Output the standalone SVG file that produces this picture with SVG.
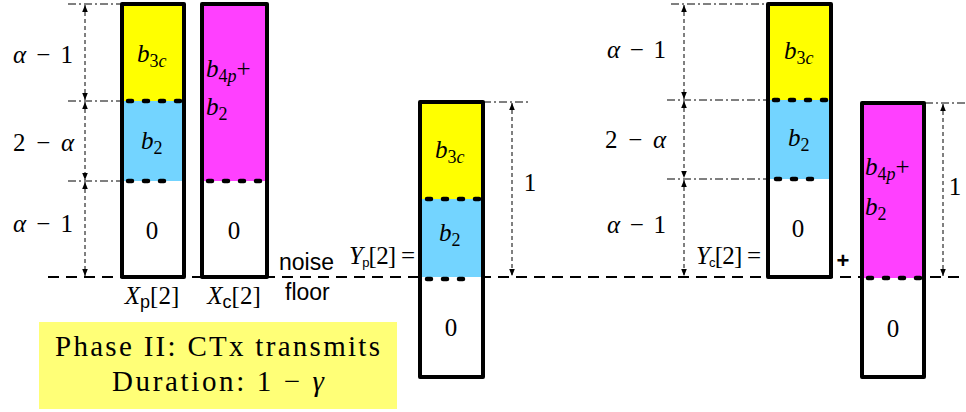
<svg xmlns="http://www.w3.org/2000/svg" width="966" height="412" viewBox="0 0 966 412">
<defs>
<marker id="ah" viewBox="0 0 10 10" refX="10" refY="5" markerWidth="7" markerHeight="7" orient="auto-start-reverse" markerUnits="userSpaceOnUse"><path d="M0,1 L10,5 L0,9 z" fill="#000"/></marker>
<style>
.bar{fill:none;stroke:#000;stroke-width:4;stroke-linejoin:round}
.dot{stroke:#000;stroke-width:4.5;stroke-dasharray:4 12;stroke-linecap:round;fill:none}
.dim{stroke:#000;stroke-width:1;stroke-dasharray:4 3;fill:none;marker-start:url(#ah);marker-end:url(#ah)}
.dd{stroke:#000;stroke-width:1;stroke-dasharray:8 3 2 3;fill:none}
.floor{stroke:#000;stroke-width:2;stroke-dasharray:11 7;fill:none}
.m{font-family:"Liberation Serif","Times New Roman",serif;font-size:25px;fill:#000}
.ms{font-size:18px}
.i{font-style:italic}
.sf{font-family:"Liberation Sans",Arial,sans-serif}
.sans{font-family:"Liberation Sans",Arial,sans-serif;font-size:23px;fill:#000}
.cap{font-family:"Liberation Serif","Times New Roman",serif;font-size:29px;fill:#000}
</style>
</defs>

<g id="connectors">
<line class="floor" x1="48" y1="277" x2="966" y2="277"/>
<line class="dd" x1="68" y1="4" x2="122" y2="4"/>
<line class="dd" x1="68" y1="101" x2="122" y2="101"/>
<line class="dd" x1="68" y1="181" x2="122" y2="181"/>
<line class="dim" x1="85" y1="5" x2="85" y2="100"/>
<line class="dim" x1="85" y1="102" x2="85" y2="180"/>
<line class="dim" x1="85" y1="182" x2="85" y2="276"/>
<line class="dd" x1="483" y1="102" x2="530" y2="102"/>
<line class="dim" x1="512" y1="103" x2="512" y2="276"/>
<line class="dd" x1="671" y1="4" x2="768" y2="4"/>
<line class="dd" x1="667" y1="100" x2="768" y2="100"/>
<line class="dd" x1="667" y1="179" x2="768" y2="179"/>
<line class="dim" x1="684" y1="5" x2="684" y2="99"/>
<line class="dim" x1="684" y1="101" x2="684" y2="178"/>
<line class="dim" x1="684" y1="180" x2="684" y2="276"/>
<line class="dd" x1="925" y1="103" x2="966" y2="103"/>
<line class="dim" x1="943" y1="104" x2="943" y2="276"/>
</g>

<g id="xp">
<rect x="122" y="4" width="62" height="97" fill="#ffff00"/>
<rect x="122" y="101" width="62" height="80" fill="#73d4ff"/>
<rect x="122" y="181" width="62" height="96" fill="#fff"/>
<line class="dot" x1="128" y1="101" x2="182" y2="101"/>
<line class="dot" x1="128" y1="181" x2="172" y2="181"/>
<rect class="bar" x="122" y="4" width="62" height="273"/>
<text class="m" x="137" y="62"><tspan class="i">b</tspan><tspan class="ms" dy="5">3<tspan class="i">c</tspan></tspan></text>
<text class="m" x="141" y="149"><tspan class="i">b</tspan><tspan class="ms" dy="5">2</tspan></text>
<text class="m" x="152" y="239" text-anchor="middle">0</text>
<text class="m" x="152" y="304" text-anchor="middle"><tspan class="i">X</tspan><tspan class="ms sf" dy="4">p</tspan><tspan dy="-4">[2]</tspan></text>
</g>

<g id="xc">
<rect x="202" y="4" width="65" height="177" fill="#ff40ff"/>
<rect x="202" y="181" width="65" height="96" fill="#fff"/>
<line class="dot" x1="208" y1="181" x2="264" y2="181"/>
<rect class="bar" x="202" y="4" width="65" height="273"/>
<text class="m" x="206" y="77"><tspan class="i">b</tspan><tspan class="ms" dy="5">4<tspan class="i">p</tspan></tspan><tspan dy="-5">+</tspan></text>
<text class="m" x="206" y="115"><tspan class="i">b</tspan><tspan class="ms" dy="5">2</tspan></text>
<text class="m" x="234" y="239" text-anchor="middle">0</text>
<text class="m" x="234" y="304" text-anchor="middle"><tspan class="i">X</tspan><tspan class="ms sf" dy="4">c</tspan><tspan dy="-4">[2]</tspan></text>
</g>

<g id="left-labels">
<text class="m" x="13" y="63" textLength="60"><tspan class="i">α</tspan> − 1</text>
<text class="m" x="13" y="151" textLength="61">2 − <tspan class="i">α</tspan></text>
<text class="m" x="13" y="232" textLength="60"><tspan class="i">α</tspan> − 1</text>
</g>

<g id="noise-floor">
<text class="sans" x="279" y="270">noise</text>
<text class="sans" x="285" y="300">floor</text>
</g>

<g id="yp">
<rect x="420" y="102" width="63" height="97" fill="#ffff00"/>
<rect x="420" y="199" width="63" height="78" fill="#73d4ff"/>
<rect x="420" y="277" width="63" height="100" fill="#fff"/>
<line class="dot" x1="427" y1="199" x2="479" y2="199"/>
<line class="dot" x1="427" y1="279" x2="470" y2="279"/>
<rect class="bar" x="420" y="102" width="63" height="275"/>
<text class="m" x="435" y="158"><tspan class="i">b</tspan><tspan class="ms" dy="5">3<tspan class="i">c</tspan></tspan></text>
<text class="m" x="439" y="241"><tspan class="i">b</tspan><tspan class="ms" dy="5">2</tspan></text>
<text class="m" x="451" y="336" text-anchor="middle">0</text>
<text class="m" x="349" y="264" font-size="19" textLength="66"><tspan class="i">Y</tspan><tspan class="sf" font-size="13" dy="3">p</tspan><tspan dy="-3">[2] =</tspan></text>
<text class="m" x="530" y="191" text-anchor="middle">1</text>
</g>

<g id="yc">
<rect x="768" y="4" width="63" height="96" fill="#ffff00"/>
<rect x="768" y="100" width="63" height="79" fill="#73d4ff"/>
<rect x="768" y="179" width="63" height="98" fill="#fff"/>
<line class="dot" x1="774" y1="100" x2="828" y2="100"/>
<line class="dot" x1="776" y1="179" x2="820" y2="179"/>
<rect class="bar" x="768" y="4" width="63" height="273"/>
<text class="m" x="784" y="59"><tspan class="i">b</tspan><tspan class="ms" dy="5">3<tspan class="i">c</tspan></tspan></text>
<text class="m" x="788" y="146"><tspan class="i">b</tspan><tspan class="ms" dy="5">2</tspan></text>
<text class="m" x="798" y="237" text-anchor="middle">0</text>
<text class="m" x="696" y="264" font-size="19" textLength="65"><tspan class="i">Y</tspan><tspan class="sf" font-size="13" dy="3">c</tspan><tspan dy="-3">[2] =</tspan></text>
<text class="sf" x="843" y="268" text-anchor="middle" font-weight="bold" font-size="22">+</text>
</g>

<g id="right-labels">
<text class="m" x="607" y="58" textLength="59"><tspan class="i">α</tspan> − 1</text>
<text class="m" x="605" y="148" textLength="61">2 − <tspan class="i">α</tspan></text>
<text class="m" x="607" y="233" textLength="59"><tspan class="i">α</tspan> − 1</text>
</g>

<g id="yc2">
<rect x="862" y="103" width="62" height="175" fill="#ff40ff"/>
<rect x="862" y="278" width="62" height="99" fill="#fff"/>
<line class="dot" x1="868" y1="278" x2="920" y2="278"/>
<rect class="bar" x="862" y="103" width="62" height="274"/>
<text class="m" x="865" y="175"><tspan class="i">b</tspan><tspan class="ms" dy="5">4<tspan class="i">p</tspan></tspan><tspan dy="-5">+</tspan></text>
<text class="m" x="865" y="215"><tspan class="i">b</tspan><tspan class="ms" dy="5">2</tspan></text>
<text class="m" x="893" y="337" text-anchor="middle">0</text>
<text class="m" x="955" y="195" text-anchor="middle">1</text>
</g>

<g id="caption">
<rect x="39" y="322" width="358" height="87" fill="#ffff77"/>
<text class="cap" x="55" y="356" textLength="325">Phase II: CTx transmits</text>
<text class="cap" x="112" y="391" textLength="212">Duration: 1 − <tspan class="i">γ</tspan></text>
</g>
</svg>
